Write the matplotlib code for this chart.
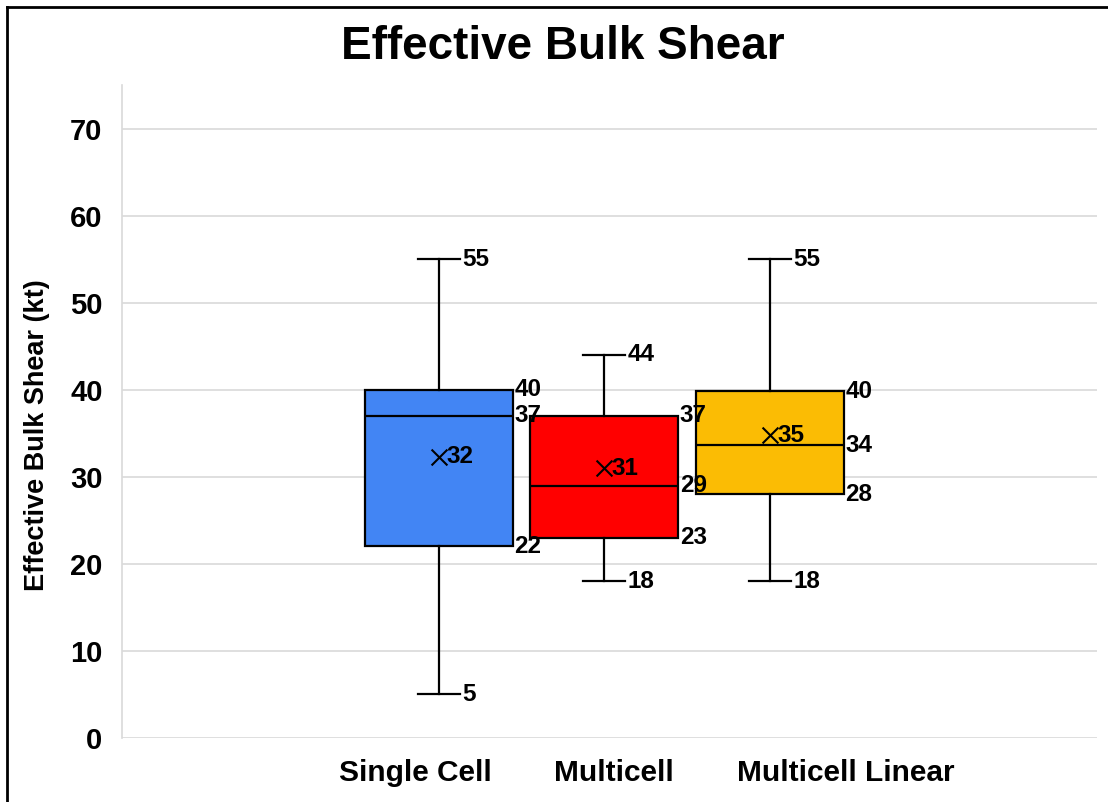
import numpy as np
import matplotlib.pyplot as plt
from matplotlib.lines import Line2D

plt.rcParams['font.family'] = ['Liberation Sans', 'DejaVu Sans']

# data
groups = ['Single Cell', 'Multicell', 'Multicell Linear']
whislo = [5, 18, 18]
q1 = [22, 23, 28]
med = [37, 29, 33.6]
q3 = [40, 37, 39.8]
whishi = [55, 44, 55]
means = [32.3, 31, 34.8]
colors = ['#4285F4', '#FF0000', '#FBBC04']

positions = [1, 2, 3]
label_pos = [0.855, 2.057, 3.459]

fig = plt.figure(figsize=(11.08, 8.02), dpi=100)
ax = fig.add_axes([0.1101, 0.0798, 0.8799, 0.8142])

stats = []
for i in range(len(groups)):
    stats.append({'whislo': whislo[i], 'q1': q1[i], 'med': med[i], 'q3': q3[i],
                  'whishi': whishi[i], 'mean': means[i], 'fliers': [], 'label': groups[i]})

bp = ax.bxp(stats, positions=positions, widths=0.894, capwidths=0.254, patch_artist=True,
            showmeans=False, showfliers=False,
            boxprops=dict(linewidth=1.6, edgecolor='black'),
            medianprops=dict(color='black', linewidth=1.6),
            whiskerprops=dict(color='black', linewidth=1.6),
            capprops=dict(color='black', linewidth=1.6), zorder=3)
for patch, c in zip(bp['boxes'], colors):
    patch.set_facecolor(c)

ax.scatter(positions, means, marker='x', s=130, color='black', linewidths=1.5, zorder=5)

lab_kw = dict(fontsize=17.5, fontweight='bold', va='center', ha='left', zorder=6)
for i, p in enumerate(positions):
    ax.text(p + 0.14, whishi[i], f'{whishi[i]:.0f}', **lab_kw)
    ax.text(p + 0.14, whislo[i], f'{whislo[i]:.0f}', **lab_kw)
    ax.text(p + 0.455, q3[i], f'{q3[i]:.0f}', **lab_kw)
    ax.text(p + 0.455, q1[i], f'{q1[i]:.0f}', **lab_kw)
    ax.text(p + 0.455, med[i], f'{med[i]:.0f}', **lab_kw)
    ax.text(p + 0.045, means[i], f'{means[i]:.0f}', **lab_kw)

ax.set_xlim(-0.915, 4.976)
ax.set_ylim(0, 75)
ax.set_yticks(np.arange(0, 71, 10))
ax.set_xticks(label_pos)
ax.set_xticklabels(groups)
ax.tick_params(axis='both', length=0)
ax.tick_params(axis='x', pad=15, labelsize=21.5)
ax.tick_params(axis='y', pad=14, labelsize=21)
for lbl in ax.get_xticklabels() + ax.get_yticklabels():
    lbl.set_fontweight('bold')
ax.yaxis.grid(True, color='#d9d9d9', linewidth=1.2, zorder=0)
ax.set_axisbelow(True)
for s in ['top', 'right', 'bottom']:
    ax.spines[s].set_visible(False)
ax.spines['left'].set_color('#d9d9d9')
ax.spines['left'].set_linewidth(1.2)

fig.text(37 / 1108, 1 - 435 / 802, 'Effective Bulk Shear (kt)', rotation=90,
         fontsize=19.5, fontweight='bold', ha='center', va='center')
fig.text(0.5077, 1 - 47 / 802, 'Effective Bulk Shear', fontsize=33, fontweight='bold',
         ha='center', va='center')

# outer frame (top and left edges only)
fig.add_artist(Line2D([0.0065, 1.0], [0.9915, 0.9915], transform=fig.transFigure, color='black', linewidth=2))
fig.add_artist(Line2D([0.0065, 0.0065], [0.0, 0.9915], transform=fig.transFigure, color='black', linewidth=2))

fig.savefig('out.png', dpi=100)
